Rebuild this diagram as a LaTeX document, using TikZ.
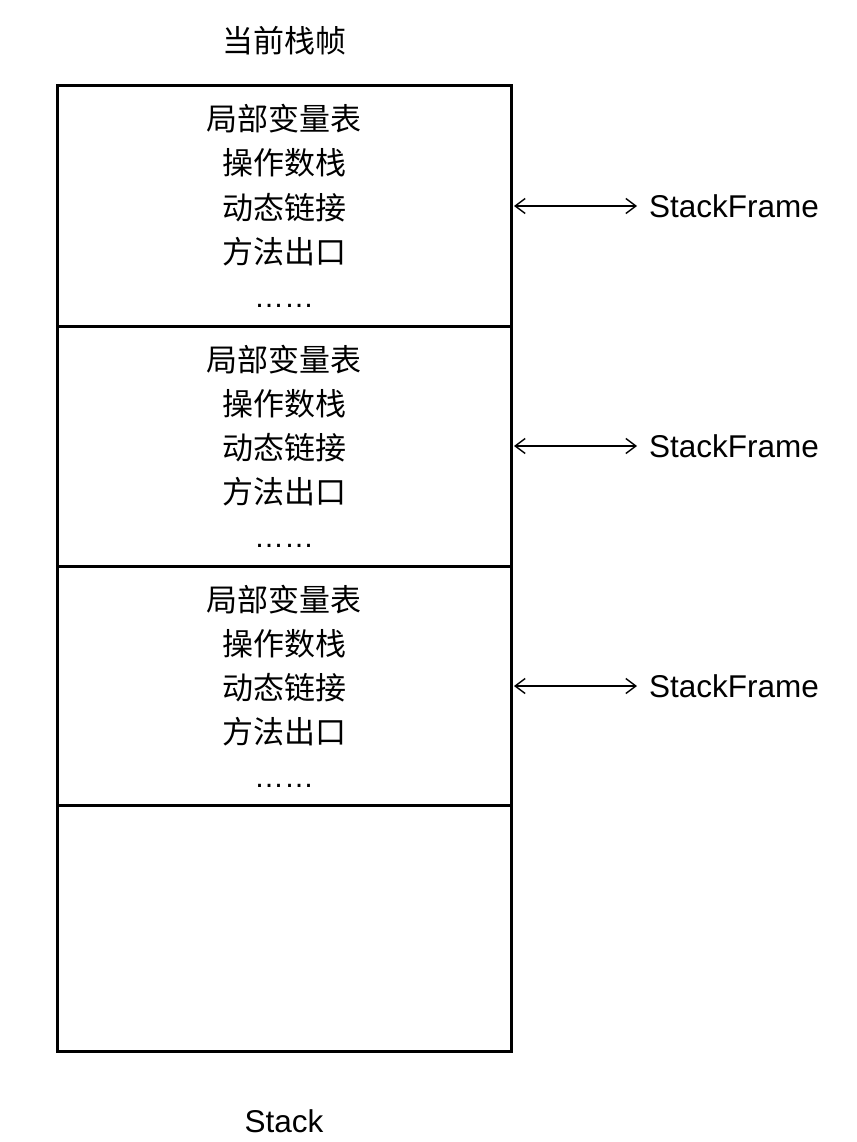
\documentclass[tikz,border=0pt]{standalone}
\usepackage{fontspec}
\setmainfont{Liberation Sans}
\newfontfamily\cjk{Noto Sans CJK SC}
\usetikzlibrary{arrows.meta}
\begin{document}
\begin{tikzpicture}[x=1pt,y=-1pt,
  frame/.style={draw,line width=3pt,line join=miter},
  cjktext/.style={anchor=base,inner sep=0pt,font=\cjk\fontsize{31}{31}\selectfont},
  dots/.style={anchor=base,inner sep=0pt,font=\fontsize{30}{30}\selectfont},
  lbl/.style={anchor=base west,inner sep=0pt,font=\fontsize{31.5}{31.5}\selectfont},
  link/.style={line width=1.4pt,{Straight Barb[length=10pt,width=15pt,line width=1.4pt]}-{Straight Barb[length=10pt,width=15pt,line width=1.4pt]}}]
\useasboundingbox (0,0) rectangle (856,1142);
\fill[white] (0,0) rectangle (856,1142);
\node[cjktext] (title) at (284,53) {当前栈帧};
\draw[frame] (57,86) rectangle (511,1051);
\draw[frame] (57,326) -- (511,326);
\draw[frame] (57,566) -- (511,566);
\draw[frame] (57,805) -- (511,805);
\foreach \i/\o in {1/0,2/240,3/480}{
  \node[cjktext] (a\i) at (284,131+\o) {局部变量表};
  \node[cjktext] (b\i) at (284,175+\o) {操作数栈};
  \node[cjktext] (c\i) at (284,219+\o) {动态链接};
  \node[cjktext] (d\i) at (284,263+\o) {方法出口};
  \node[dots] (e\i) at (284,307+\o) {……};
  \coordinate (l\i) at (514,206+\o);
  \node[lbl] (s\i) at (649,217+\o) {StackFrame};
  \draw[link] (l\i) -- (637,206+\o);
}
\node[anchor=base,inner sep=0pt,font=\fontsize{31.5}{31.5}\selectfont] (stack) at (284,1132) {Stack};
\end{tikzpicture}
\end{document}
